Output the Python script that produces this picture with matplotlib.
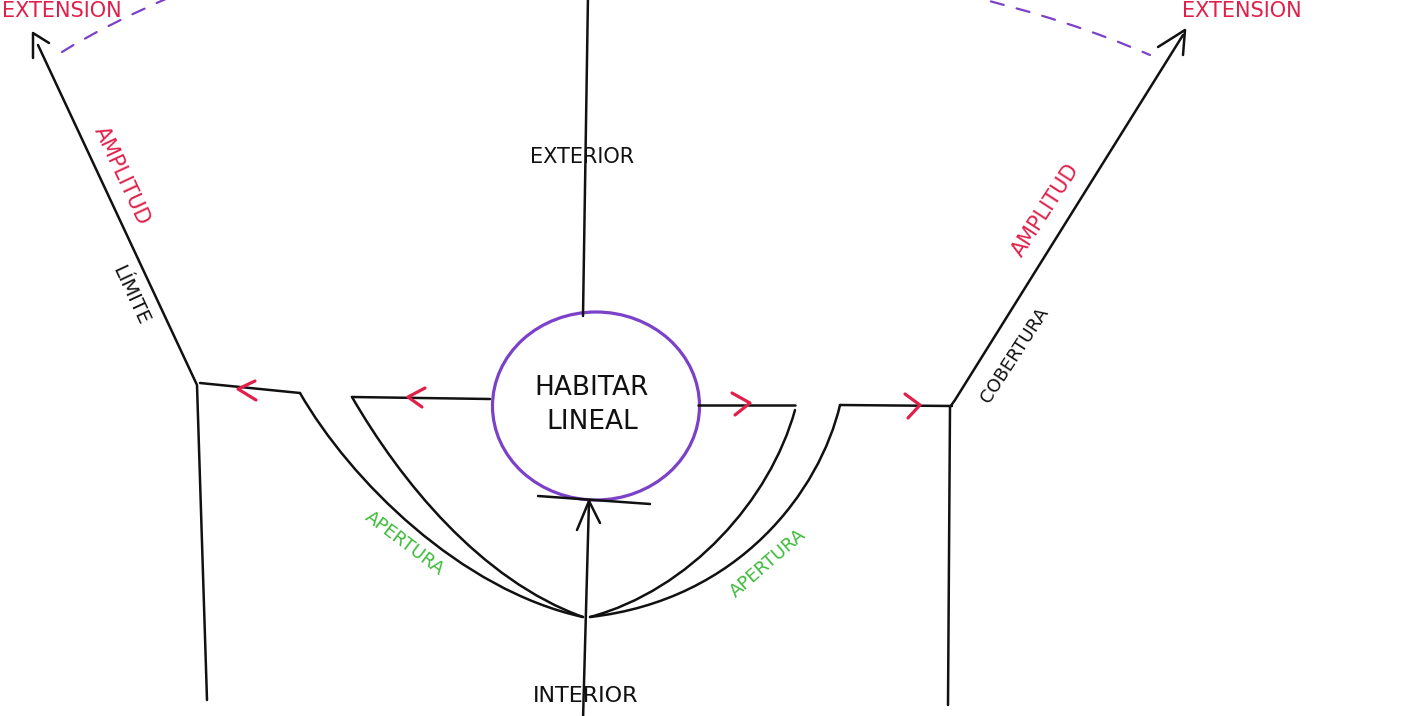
import matplotlib
matplotlib.use("Agg")
import matplotlib.pyplot as plt
from matplotlib.path import Path
from matplotlib.patches import PathPatch, Ellipse

# ---- colours ----
BLACK = "#111111"
RED = "#e0204a"
GREEN = "#3dbb3a"
PURPLE = "#7b42c9"

# ---- geometry (pixel space, y downward) ----
top_axis = [(588, -5), (583, 316)]
bottom_axis = [(583, 720), (589, 501)]
bottom_head = [(577, 530), (589, 501), (600, 523)]
bottom_tick = [(538, 496), (650, 504)]

circle_center = (596, 406)
circle_size = (207, 188)

left_frame = [(38, 45), (197, 385), (207, 700)]
left_top_seg = [(200, 383), (300, 393)]
left_head = [(33, 58), (33, 33), (49, 43)]
left_inner_seg = [(352, 397), (490, 399)]

right_frame = [(1183, 35), (955, 400), (950, 407), (948, 705)]
right_top_seg = [(840, 405), (952, 406)]
right_head = [(1158, 47), (1185, 30), (1183, 55)]
right_inner_seg = [(698, 405), (795, 405)]

# cubic Bezier control points for the four curves
curve_left_inner = [(352, 397), (400, 480), (480, 580), (583, 617)]
curve_left_outer = [(300, 393), (350, 480), (460, 590), (583, 617)]
curve_right_inner = [(795, 410), (770, 500), (690, 590), (590, 617)]
curve_right_outer = [(840, 405), (820, 490), (740, 600), (590, 617)]

# dashed extension arcs (quadratic)
arc_left = [(62, 52), (105, 25), (175, -5)]
arc_right = [(965, -5), (1070, 20), (1150, 55)]

# red chevrons (arm, tip, arm)
chevrons = [
    [(255, 381), (238, 389), (256, 400)],
    [(425, 388), (408, 397), (422, 407)],
    [(732, 393), (750, 403), (735, 415)],
    [(905, 394), (920, 405), (908, 418)],
]

# labels: text, x, y, rotation, colour, size, horizontal alignment
labels = [
    ("EXTENSIÓN", 2, 11, 0, RED, 15, "left"),
    ("EXTENSIÓN", 1242, 11, 0, RED, 15, "center"),
    ("EXTERIOR", 582, 157, 0, BLACK, 15, "center"),
    ("HABITAR\nLINEAL", 592, 405, 0, BLACK, 19, "center"),
    ("INTERIOR", 586, 696, 0, BLACK, 16, "center"),
    ("AMPLITUD", 122, 176, -65, RED, 15, "center"),
    ("LÍMITE", 130, 295, -65, BLACK, 14, "center"),
    ("AMPLITUD", 1046, 210, 57, RED, 15, "center"),
    ("COBERTURA", 1015, 355, 57, BLACK, 13, "center"),
    ("APERTURA", 405, 543, -37, GREEN, 13, "center"),
    ("APERTURA", 768, 563, 41, GREEN, 13, "center"),
]

W, H = 1410, 716
fig = plt.figure(figsize=(W / 100, H / 100), dpi=100)
ax = fig.add_axes([0, 0, 1, 1])
ax.set_xlim(0, W)
ax.set_ylim(H, 0)
ax.axis("off")
fig.patch.set_facecolor("white")

LW = 1.8


def poly(pts, color=BLACK, lw=LW, **kw):
    xs, ys = zip(*pts)
    ax.plot(xs, ys, color=color, lw=lw, solid_capstyle="round",
            solid_joinstyle="round", **kw)


def bezier(pts, color=BLACK, lw=LW, **kw):
    codes = [Path.MOVETO] + [Path.CURVE4 if len(pts) == 4 else Path.CURVE3] * (len(pts) - 1)
    ax.add_patch(PathPatch(Path(pts, codes), facecolor="none", edgecolor=color,
                           lw=lw, capstyle="round", **kw))


for seg in [top_axis, bottom_axis, bottom_head, bottom_tick, left_frame,
            left_top_seg, left_head, left_inner_seg, right_frame,
            right_top_seg, right_head, right_inner_seg]:
    poly(seg)

for c in [curve_left_inner, curve_left_outer, curve_right_inner, curve_right_outer]:
    bezier(c)

for a in [arc_left, arc_right]:
    bezier(a, color=PURPLE, lw=1.6, linestyle=(0, (6, 6)))

for ch in chevrons:
    poly(ch, color=RED, lw=2.3)

ax.add_patch(Ellipse(circle_center, circle_size[0], circle_size[1],
                     facecolor="none", edgecolor=PURPLE, lw=2.3))

for txt, x, y, rot, col, fs, ha in labels:
    ax.text(x, y, txt, color=col, fontsize=fs, rotation=rot,
            ha=ha, va="center", rotation_mode="anchor",
            family="DejaVu Sans", linespacing=1.4)

fig.savefig("out.png", dpi=100, facecolor="white")
